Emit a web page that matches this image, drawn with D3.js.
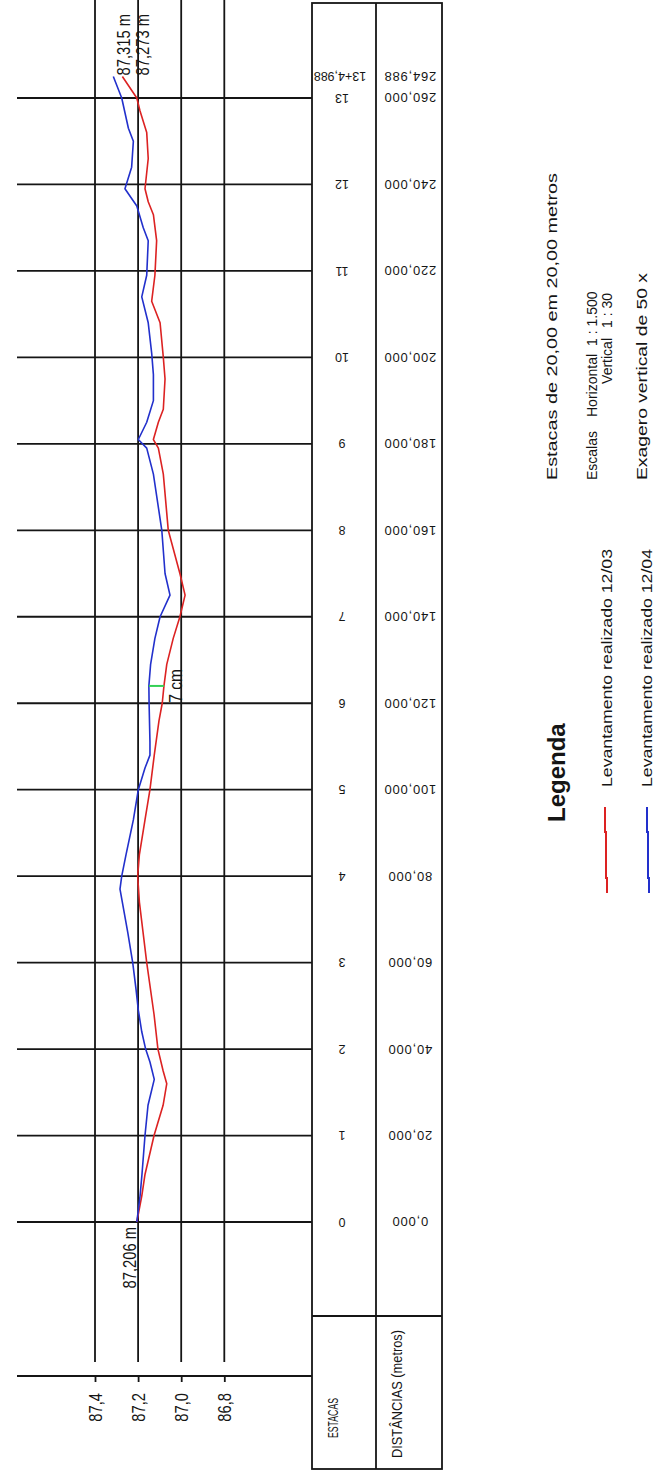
<!DOCTYPE html>
<html>
<head>
<meta charset="utf-8">
<script src="https://cdn.jsdelivr.net/npm/d3@7"></script>
<style>
  html, body { margin: 0; padding: 0; background: #fff; }
  svg { display: block; }
</style>
</head>
<body>
<svg id="chart" width="657" height="1477"></svg>
<script>
// ---- Stations (every 20 m) and their table labels ----
const stationNames = ["0","1","2","3","4","5","6","7","8","9","10","11","12","13"];
const stationDist = [0,20,40,60,80,100,120,140,160,180,200,220,240,260];
const stationDistLabels = ["0,000","20,000","40,000","60,000","80,000","100,000","120,000",
  "140,000","160,000","180,000","200,000","220,000","240,000","260,000"];
const endStationName = "13+4,988";
const endDist = 264.988;
const endDistLabel = "264,988";

// ---- Elevation axis ----
const elevTicks = [87.4, 87.2, 87.0, 86.8];
const elevTickLabels = ["87,4", "87,2", "87,0", "86,8"];

// ---- Survey of 12/03 (distance m, elevation m) ----
const survey1203Dist = [0,6,11,20,27,32,35,40,48,60,67,74,80,85,93,100,108,116,120,124,129,135,140,145,150,160,173,179,181,185,188,195,200,208,213,219,227,233,236,239,246,252,257,260,264.988];
const survey1203Elev = [87.206,87.183,87.168,87.126,87.084,87.067,87.084,87.108,87.126,87.160,87.177,87.194,87.202,87.194,87.168,87.145,87.125,87.103,87.088,87.080,87.067,87.037,87.006,86.982,87.006,87.060,87.083,87.106,87.129,87.106,87.083,87.075,87.083,87.098,87.137,87.122,87.114,87.129,87.153,87.168,87.153,87.160,87.191,87.206,87.273];

// ---- Survey of 12/04 ----
const survey1204Dist = [0,6,11,20,27,33,37,40,44,49,54,60,67,77,80,85,93,100,105,108,111,120,124,129,135,140,145,150,160,173,179,181,185,190,196,201,208,214,219,227,230,235,239,244,250,253,260,264.988];
const survey1204Elev = [87.206,87.191,87.182,87.168,87.154,87.125,87.145,87.165,87.183,87.199,87.210,87.225,87.248,87.284,87.276,87.256,87.222,87.199,87.168,87.145,87.145,87.149,87.150,87.142,87.122,87.098,87.052,87.075,87.090,87.129,87.160,87.199,87.160,87.129,87.129,87.137,87.153,87.183,87.160,87.153,87.176,87.206,87.261,87.230,87.222,87.245,87.276,87.315];

// ---- Annotations ----
const startLabel = "87,206 m";
const end1204Label = "87,315 m";
const end1203Label = "87,273 m";
const gapDist = 124;
const gapElev = [87.150, 87.080];
const gapLabel = "7 cm";

const legendTitle = "Legenda";
const seriesNames = ["Levantamento realizado 12/03", "Levantamento realizado 12/04"];
const seriesColors = ["#dc2222", "#2230cc"];

const FONT = "'Liberation Sans', Arial, Helvetica, sans-serif";
const INK = "#151515";

const svg = d3.select("#chart");

// The profile is laid out on its side: distance runs bottom -> top,
// elevation increases towards the left.
const dist = d3.scaleLinear().domain([0, 260]).range([1222, 98]);
const elev = d3.scaleLinear().domain([87.4, 86.8]).range([95, 224.3]);

const gridLeft = 17, tableLeft = 312, tableMid = 376, tableRight = 442;
const tableTop = 3, tableBottom = 1469, headerLine = 1316;
const axisY = 1376, gridTop = 0, gridBottom = 1362;

// helper: text with an arbitrary rotation about its anchor point
function label(parent, x, y, str, o) {
  const tf = `translate(${x},${y}) rotate(${o.angle === undefined ? -90 : o.angle})` +
             (o.sx ? ` scale(${o.sx},1)` : "");
  const t = parent.append("text")
    .attr("transform", tf)
    .attr("text-anchor", o.anchor || "start")
    .attr("font-family", FONT)
    .attr("font-size", o.size)
    .attr("font-weight", o.weight || "normal")
    .attr("fill", o.fill || INK)
    .text(str);
  if (o.dy) t.attr("dy", o.dy);
  if (o.len) t.attr("textLength", o.len).attr("lengthAdjust", "spacingAndGlyphs");
  if (o.ls) t.attr("letter-spacing", o.ls);
  return t;
}

// ---- Grid ----
const grid = svg.append("g").attr("stroke", INK).attr("stroke-width", 1.8);
grid.selectAll("line.st").data(stationDist).join("line")
  .attr("class", "st")
  .attr("x1", gridLeft).attr("x2", tableLeft)
  .attr("y1", d => dist(d)).attr("y2", d => dist(d));
grid.selectAll("line.el").data(elevTicks).join("line")
  .attr("class", "el")
  .attr("x1", d => elev(d)).attr("x2", d => elev(d))
  .attr("y1", gridTop).attr("y2", gridBottom);

// ---- Elevation axis ----
const axisG = svg.append("g").attr("transform", `translate(0,${axisY})`);
axisG.append("line").attr("x1", gridLeft).attr("x2", tableLeft)
  .attr("stroke", INK).attr("stroke-width", 1.8);
axisG.call(d3.axisBottom(elev).tickValues(elevTicks).tickSize(6)
  .tickFormat((d, i) => elevTickLabels[i]));
axisG.select(".domain").remove();
axisG.selectAll(".tick line").attr("stroke", INK).attr("stroke-width", 1.8);
axisG.selectAll(".tick text")
  .attr("x", 0).attr("y", 0).attr("dy", "0.35em")
  .attr("text-anchor", "end")
  .attr("transform", "translate(0,17) rotate(-90) scale(0.82,1)")
  .attr("font-family", FONT).attr("font-size", 18).attr("fill", INK);

// ---- Profiles ----
const line = d3.line().x(d => elev(d.e)).y(d => dist(d.d));
const series = [
  survey1203Dist.map((d, i) => ({ d, e: survey1203Elev[i] })),
  survey1204Dist.map((d, i) => ({ d, e: survey1204Elev[i] }))
];
svg.append("g").selectAll("path").data(series).join("path")
  .attr("d", line)
  .attr("fill", "none")
  .attr("stroke", (d, i) => seriesColors[i])
  .attr("stroke-width", 1.6)
  .attr("stroke-linejoin", "round");

// difference marker between the two surveys
svg.append("line")
  .attr("x1", elev(gapElev[0])).attr("x2", elev(gapElev[1]))
  .attr("y1", dist(gapDist)).attr("y2", dist(gapDist))
  .attr("stroke", "#33d055").attr("stroke-width", 2);
label(svg, elev(gapElev[1]) + 18, dist(gapDist), gapLabel,
  { anchor: "middle", size: 19, sx: 0.82 });

// elevation call-outs at both ends
label(svg, elev(survey1203Elev[0]) - 1, dist(0) + 5, startLabel,
  { anchor: "end", size: 18, sx: 0.82 });
label(svg, elev(survey1204Elev[survey1204Elev.length - 1]) + 17, dist(endDist) - 1, end1204Label,
  { anchor: "start", size: 18, sx: 0.82 });
label(svg, elev(survey1203Elev[survey1203Elev.length - 1]) + 27, dist(endDist) - 1, end1203Label,
  { anchor: "start", size: 18, sx: 0.82 });

// ---- Table of stations / distances ----
const table = svg.append("g").attr("stroke", INK).attr("stroke-width", 1.8).attr("fill", "none");
table.append("rect")
  .attr("x", tableLeft).attr("y", tableTop)
  .attr("width", tableRight - tableLeft).attr("height", tableBottom - tableTop);
table.append("line").attr("x1", tableMid).attr("x2", tableMid)
  .attr("y1", tableTop).attr("y2", tableBottom);
table.append("line").attr("x1", tableLeft).attr("x2", tableRight)
  .attr("y1", headerLine).attr("y2", headerLine);

label(svg, 338, 1438, "ESTACAS", { size: 14, len: 40 });
label(svg, 402, 1458, "DISTÂNCIAS (metros)", { size: 15, len: 128 });

const stCol = 342, dsCol = 410;
stationNames.forEach((s, i) => {
  label(svg, stCol, dist(stationDist[i]), s, { angle: 180, anchor: "middle", size: 12.5, dy: "0.35em" });
  label(svg, dsCol, dist(stationDist[i]), stationDistLabels[i],
    { angle: 180, anchor: "middle", size: 13, dy: "0.35em", ls: "0.8px" });
});
label(svg, 340, dist(endDist), endStationName, { angle: 180, anchor: "middle", size: 12.5, dy: "0.35em" });
label(svg, dsCol, dist(endDist), endDistLabel,
  { angle: 180, anchor: "middle", size: 13, dy: "0.35em", ls: "0.8px" });

// ---- Notes on stationing and scales ----
const NOTE = 15.5, SCALE_NOTE = 14;
label(svg, 557, 480, "Estacas de 20,00 em 20,00 metros", { size: NOTE, len: 307 });
label(svg, 597, 480, "Escalas", { size: SCALE_NOTE });
label(svg, 597, 417, "Horizontal", { size: SCALE_NOTE });
label(svg, 597, 346, "1 : 1.500", { size: SCALE_NOTE });
label(svg, 612, 338, "Vertical", { size: SCALE_NOTE, anchor: "end" });
label(svg, 612, 328, "1 : 30", { size: SCALE_NOTE });
label(svg, 647, 480, "Exagero vertical de 50 x", { size: NOTE, len: 207 });

// ---- Legend ----
label(svg, 565, 822, legendTitle, { size: 24, weight: "bold" });
const legendX = [606, 648];
const legendBase = [612, 652];
seriesNames.forEach((name, i) => {
  const x = legendX[i];
  svg.append("path")
    .attr("d", `M${x - 1},807 V832 H${x} V878 H${x + 1} V893`)
    .attr("fill", "none")
    .attr("stroke", seriesColors[i]).attr("stroke-width", 2);
  label(svg, legendBase[i], 787, name, { size: 15.5, len: 238 });
});
</script>
</body>
</html>
